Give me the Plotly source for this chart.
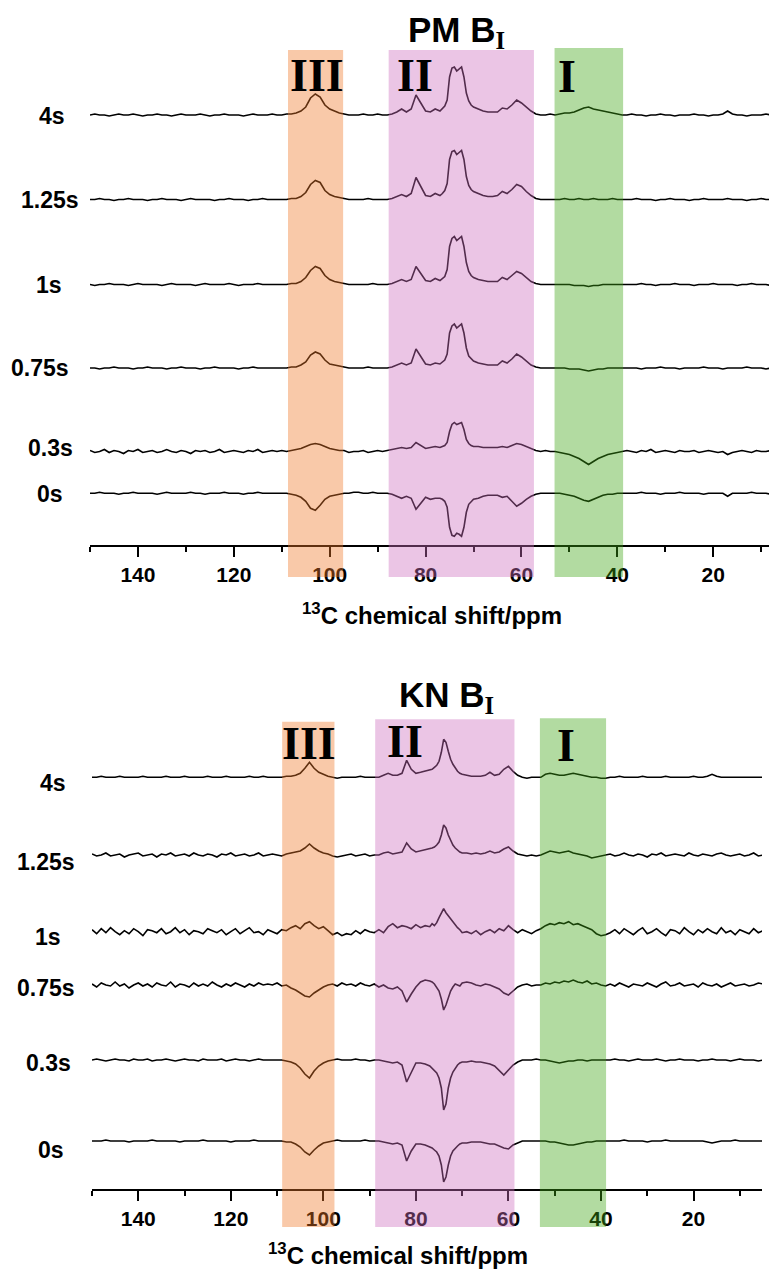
import plotly.graph_objects as go

# page is 777x1274; the HTML body keeps an 8 px margin, so the figure is drawn 8 px in
PAGE_W, PAGE_H = 777, 1274
OFF = 8
W, H = PAGE_W - OFF, PAGE_H - OFF

# ---------------- data ----------------
# chemical-shift sampling grid (ppm), descending; finer steps across the 77-70 ppm doublet
PPM = [float(v) for v in range(150, 77, -1)] + [77 - 0.5 * i for i in range(15)] + [float(v) for v in range(69, 4, -1)]

DELAYS = ["4s", "1.25s", "1s", "0.75s", "0.3s", "0s"]

# PM B_I spectra (intensity, arbitrary units)
PM_4s = ([0,1,0,0,-1,0,1,0,0,1, 0,-1,0,0,1,0,0,-1,0,1, 0,0,0,1,0,-1,0,0,1,0, 0,0,-1,0,1,0,0,0,1]
         + [0,0,1,1,2,4,8,17,21,18,10,6,4,2,1,0,0]
         + [0,1,0,0,1,0]
         + [0,1,3,6,3,6,20,12,4,3,6]
         + [4,7,9,15,38,47,48,44,46,48,38,22,14,10,8]
         + [6,4,3,3,3,7,6,10,15,12,8,4,1]
         + [0,0,1]
         + [0,1,2,2,3,5,7,8,6,5,4,3,2,1,0]
         + [0,1,0,0,-1,0,0,1,0,0, -1,0,0,0,1,0,0,-1,0,0, 1,4,1,0,0,-1,0,0,0,1, 0,0,-1,0])
PM_125s = ([0,0,1,0,0,-1,0,0,1,0, 0,0,-1,0,0,1,0,0,0,-1, 0,1,0,0,0,0,-1,0,0,1, 0,0,0,-1,0,0,1,0,0]
           + [0,0,0,1,1,3,7,15,19,17,9,5,3,2,1,0,0]
           + [0,0,1,0,0,0]
           + [0,1,3,5,3,6,22,13,4,3,6]
           + [4,6,9,16,40,48,49,45,47,49,40,23,14,10,8]
           + [6,4,3,3,4,8,6,10,15,13,8,4,1]
           + [0,0,0]
           + [0,0,1,0,0,1,0,0,1,0,0,0,1,0,0]
           + [0,0,1,0,0,0,-1,0,0,1, 0,0,0,-1,0,0,1,0,0,0, 0,1,0,0,0,-1,0,0,1,0, 0,0,0,1])
PM_1s = ([0,-1,0,0,1,0,0,0,-1,0, 1,0,0,0,0,-1,0,1,0,0, 0,0,-1,0,1,0,0,0,0,1, 0,-1,0,0,0,1,0,0,0]
         + [0,0,0,1,1,3,7,14,18,16,9,5,3,2,1,0,0]
         + [0,0,0,1,0,0]
         + [0,1,3,5,3,5,18,11,4,3,6]
         + [4,6,8,15,38,46,48,44,46,48,38,22,13,9,7]
         + [5,4,3,3,3,7,5,9,13,11,7,3,1]
         + [0,0,0]
         + [0,0,0,0,-1,-1,-1,-2,-1,-1,0,0,0,0,0]
         + [0,0,0,1,0,0,-1,0,0,0, 1,0,0,0,-1,0,0,0,1,0, 0,0,0,-1,0,0,1,0,0,0, -1,0,0,0])
PM_075s = ([0,0,-1,0,0,1,0,0,0,-1, 0,0,1,0,0,0,-1,0,0,1, 0,0,0,-1,0,0,1,0,0,0, 0,-1,0,0,1,0,0,0,0]
           + [0,0,0,1,1,3,6,13,16,14,8,4,3,2,1,0,0]
           + [0,0,1,0,0,0]
           + [0,1,3,5,3,5,19,11,4,3,5]
           + [4,6,8,14,35,42,44,40,42,44,35,20,12,9,7]
           + [5,4,3,3,3,7,5,9,14,11,7,3,1]
           + [0,0,0]
           + [0,0,0,-1,-1,-1,-2,-3,-2,-1,-1,0,0,0,0]
           + [0,0,0,-1,0,0,0,1,0,0, 0,-1,0,0,0,0,1,0,0,0, -1,0,0,0,0,1,0,0,0,-1, 0,0,0,0])
PM_03s = ([1,-1,0,2,-1,1,0,-2,1,0, 2,-1,0,1,-1,0,2,0,-1,1, 0,-2,1,0,1,-1,0,2,-1,0, 1,0,-1,1,0,2,-1,0,1]
          + [0,1,0,1,2,3,5,7,8,7,5,3,2,1,1,-1,0]
          + [0,1,-1,0,1,0]
          + [1,2,3,4,3,4,9,6,3,4,5]
          + [4,5,6,9,20,27,29,27,28,29,22,12,8,6,5]
          + [5,4,4,4,4,5,4,6,8,7,5,3,1]
          + [0,1,0]
          + [0,-1,-2,-3,-5,-7,-10,-13,-10,-7,-5,-3,-2,-1,0]
          + [1,0,-1,1,0,2,-1,0,1,0, -1,1,0,0,1,-1,0,1,0,-1, 0,-3,-1,0,1,0,-1,1,0,0, 1,-1,0,1])
PM_0s = ([0,0,1,0,0,0,-1,0,0,1, 0,0,0,0,-1,0,1,0,0,0, 0,1,0,0,-1,0,0,0,1,0, 0,0,-1,0,0,1,0,0,0]
         + [0,0,0,-1,-2,-4,-8,-15,-17,-12,-6,-3,-2,-1,0,0,1]
         + [1,0,0,1,0,0]
         + [0,-1,-3,-5,-3,-5,-16,-10,-4,-6,-5]
         + [-5,-6,-8,-14,-34,-42,-43,-40,-41,-43,-34,-19,-11,-8,-6]
         + [-5,-3,-2,-2,-2,-4,-3,-8,-13,-10,-6,-3,-1]
         + [0,0,0]
         + [0,0,-1,-2,-3,-5,-7,-8,-6,-4,-2,-1,-1,0,0]
         + [0,0,0,1,0,0,0,-1,0,0, 0,1,0,0,0,0,-1,0,0,0, 0,-3,0,0,0,0,1,0,0,0, -1,0,0,0])

# KN B_I spectra
KN_4s = ([0,0,1,0,0,0,1,0,0,0, 0,1,0,0,0,0,1,0,0,0, 1,0,0,0,0,1,0,0,0,1, 0,0,0,0,1,0,0,1,0]
         + [0,0,0,1,1,2,4,9,15,9,5,3,1,0,-1,0,0]
         + [0,0,1,0,0,0]
         + [0,2,4,2,2,4,17,8,4,5,6]
         + [7,8,10,12,16,25,38,35,26,18,13,9,6,4,3]
         + [2,1,1,1,2,5,2,3,8,11,6,2,0]
         + [-1,0,0]
         + [0,3,4,3,2,2,3,4,3,2,1,0,0,-1,-1]
         + [0,0,1,0,0,0,0,1,0,0, 0,0,1,0,0,0,0,0,1,0, 0,1,3,1,0,0,0,0,0,0, 0,0,0,0])
KN_125s = ([1,-1,0,2,-1,0,1,-2,0,1, 2,-1,0,1,-2,1,0,2,-1,0, 1,-1,2,0,-1,1,0,-2,1,0, 2,-1,0,1,-1,0,2,-1,0]
           + [1,0,-1,1,2,3,4,7,11,7,4,2,1,-1,-2,-1,0]
           + [1,-1,0,1,-1,0]
           + [0,2,3,1,2,3,12,6,3,4,5]
           + [6,7,8,10,13,20,30,27,20,14,10,7,5,3,2]
           + [2,1,2,1,2,4,2,3,6,8,4,1,0]
           + [-1,0,-1]
           + [0,2,4,3,2,3,4,2,1,0,-1,-3,-2,-1,0]
           + [1,-1,0,2,0,-1,1,0,-2,1, 0,2,-1,0,1,0,-1,2,0,-1, 1,0,-1,1,2,0,-1,0,1,-1, 0,2,-1,0])
KN_1s = ([2,-2,3,-1,4,0,-3,1,-2,3, 0,-4,2,1,-1,3,-2,0,4,-1, 2,-3,1,0,-2,3,1,-1,2,-3, 0,3,-2,1,4,-1,0,-3,2]
         + [0,-2,2,1,4,6,3,8,10,6,3,5,1,-3,-1,-4,-2]
         + [-3,1,-2,2,0,-1]
         + [2,-1,5,8,4,6,5,3,7,4,6]
         + [5,8,6,9,14,18,23,19,16,12,9,6,4,2,-1]
         + [0,-2,1,-3,0,2,-1,3,1,6,2,-1,2]
         + [0,-2,1]
         + [3,6,8,7,9,8,10,7,8,6,4,2,-2,-4,-3]
         + [-1,2,-2,3,0,-3,1,4,-2,0, 3,-1,-4,2,1,-2,4,0,-3,2, -1,3,0,-2,4,-1,1,-3,2,0, -2,3,-1,1])
KN_075s = ([1,-2,2,0,-1,3,-1,1,-3,0, 2,-1,1,-2,2,0,-1,3,-2,1, 0,-2,2,-1,1,-1,3,0,-2,1, -1,2,0,-2,1,-1,2,0,1]
           + [0,2,-1,0,-3,-5,-8,-11,-12,-8,-5,-2,0,1,-1,2,0]
           + [1,-1,2,0,-1,1]
           + [-2,0,-3,-4,-2,-6,-17,-9,-2,3,5]
           + [4,3,1,-2,-6,-14,-25,-20,-12,-6,-2,1,0,-1,2]
           + [3,2,0,-1,1,0,-2,-4,-8,-10,-6,-2,0]
           + [1,-1,0]
           + [0,2,1,3,2,4,3,5,3,2,4,1,2,0,-1]
           + [1,-1,2,0,-2,1,0,-1,2,0, -2,1,3,-1,0,2,-1,0,1,-2, 2,0,-1,1,-2,0,2,-1,0,1, -1,0,2,1])
KN_03s = ([0,1,0,-1,0,1,0,0,-1,1, 0,0,1,-1,0,0,1,0,-1,0, 1,0,0,-1,1,0,0,0,1,-1, 0,1,0,0,-1,0,1,0,0]
          + [0,0,0,-1,-2,-4,-8,-14,-18,-11,-6,-3,-1,0,1,0,0]
          + [0,1,0,0,-1,0]
          + [0,-1,-2,-3,-2,-5,-22,-12,-3,-3,-4]
          + [-6,-8,-10,-13,-18,-28,-50,-44,-28,-18,-12,-8,-5,-3,-2]
          + [-2,-1,-2,-2,-3,-4,-6,-10,-15,-10,-5,-2,0]
          + [0,0,1]
          + [0,0,-1,-2,-3,-2,-1,-1,0,0,-1,0,0,0,0]
          + [0,1,0,0,-1,0,1,0,0,0, 1,0,-1,0,0,1,0,0,0,-1, 0,0,1,0,0,0,-1,0,1,0, 0,0,-1,0])
KN_0s = ([0,0,0,1,0,0,0,0,-1,0, 0,0,0,1,0,0,0,0,0,-1, 0,0,0,0,1,0,0,0,0,0, -1,0,0,0,0,1,0,0,0]
         + [0,0,0,-1,-1,-3,-6,-11,-14,-9,-5,-2,-1,0,1,0,0]
         + [0,0,0,1,0,0]
         + [0,-1,-2,-3,-2,-4,-20,-10,-3,-3,-4]
         + [-6,-7,-9,-11,-15,-24,-41,-36,-24,-15,-10,-7,-5,-3,-2]
         + [-2,-1,-1,-1,-2,-3,-3,-5,-7,-8,-4,-2,0]
         + [0,0,0]
         + [0,0,-1,-1,-2,-3,-4,-4,-3,-2,-1,-1,0,0,0]
         + [0,0,0,1,0,0,0,0,-1,0, 0,0,1,0,0,0,0,0,0,0, 0,-1,-2,-1,0,0,0,1,0,0, 0,0,0,0])

PM_SPECTRA = [PM_4s, PM_125s, PM_1s, PM_075s, PM_03s, PM_0s]
KN_SPECTRA = [KN_4s, KN_125s, KN_1s, KN_075s, KN_03s, KN_0s]

REGIONS = ["III", "II", "I"]
PM_BANDS = [(108.7, 97.2), (87.7, 57.4), (53.1, 38.8)]
KN_BANDS = [(108.9, 97.6), (88.8, 58.7), (53.2, 38.9)]

for name, s in zip(DELAYS * 2, PM_SPECTRA + KN_SPECTRA):
    if len(s) != len(PPM):
        raise ValueError(f"{name}: {len(s)} != {len(PPM)}")

# ---------------- layout helpers (page pixel -> paper fraction) ----------------
def py(px):
    return 1 - (px - OFF) / H

def pxx(px):
    return (px - OFF) / W

FONT = "Liberation Sans, Arial, sans-serif"
SERIF = "Liberation Serif, Times New Roman, serif"

PM_AXIS_Y, PM_TOP_Y = 545, 40
KN_AXIS_Y, KN_TOP_Y = 1188.7, 715
PM_BASE_Y = [115, 199.5, 284.5, 368, 451.5, 493.3]
KN_BASE_Y = [777.3, 855, 931.7, 985, 1060, 1141]
PM_LABEL_Y = [116, 200, 285, 368, 448, 494]
KN_LABEL_Y = [783, 862, 937, 988, 1063, 1150]
PM_LABEL_X = [52, 50, 49, 40, 50, 50]
KN_LABEL_X = [53, 46, 48, 46, 48, 51]

BAND_COLORS = ["rgb(240,120,40)", "rgb(205,110,190)", "rgb(62,165,20)"]

fig = go.Figure()

for vals, base in zip(PM_SPECTRA, PM_BASE_Y):
    off = PM_AXIS_Y - base
    fig.add_trace(go.Scatter(x=PPM, y=[off + v for v in vals], mode="lines",
                             line=dict(color="black", width=1.6), xaxis="x", yaxis="y",
                             hoverinfo="skip"))
for vals, base in zip(KN_SPECTRA, KN_BASE_Y):
    off = KN_AXIS_Y - base
    fig.add_trace(go.Scatter(x=PPM, y=[off + v for v in vals], mode="lines",
                             line=dict(color="black", width=1.6), xaxis="x2", yaxis="y2",
                             hoverinfo="skip"))

axis_common = dict(
    showline=True, linecolor="black", linewidth=2, mirror=False,
    ticks="outside", ticklen=10, tickwidth=2, tickcolor="black",
    tickmode="linear", tick0=0, dtick=20,
    minor=dict(ticks="outside", ticklen=5, tickwidth=2, tickcolor="black", dtick=10, tick0=0),
    showgrid=False, zeroline=False,
    tickfont=dict(family=FONT, size=21, color="black", weight="bold"),
)

fig.update_layout(
    width=W, height=H,
    margin=dict(l=0, r=0, t=0, b=0),
    paper_bgcolor="white", plot_bgcolor="white",
    showlegend=False,
    xaxis=dict(domain=[pxx(90), 1.0], range=[150, 6.7], anchor="y", **axis_common),
    yaxis=dict(domain=[py(PM_AXIS_Y), py(PM_TOP_Y)], range=[0, PM_AXIS_Y - PM_TOP_Y], visible=False),
    xaxis2=dict(domain=[pxx(92), pxx(762)], range=[150, 5.2], anchor="y2", **axis_common),
    yaxis2=dict(domain=[py(KN_AXIS_Y), py(KN_TOP_Y)], range=[0, KN_AXIS_Y - KN_TOP_Y], visible=False),
)

# shaded regions (overlay, tinting the traces and tick labels beneath)
band_tops_pm = [50, 50, 48]
band_tops_kn = [721.7, 719.3, 718.3]
for (x0, x1), c, t in zip(PM_BANDS, BAND_COLORS, band_tops_pm):
    fig.add_shape(type="rect", xref="x", yref="paper", x0=x0, x1=x1, y0=py(577), y1=py(t),
                  fillcolor=c, opacity=0.4, line=dict(width=0), layer="above")
for (x0, x1), c, t in zip(KN_BANDS, BAND_COLORS, band_tops_kn):
    fig.add_shape(type="rect", xref="x2", yref="paper", x0=x0, x1=x1, y0=py(1227), y1=py(t),
                  fillcolor=c, opacity=0.4, line=dict(width=0), layer="above")

# region numerals
PM_NUM_POS = [(102.7, 75), (82.2, 75), (50.6, 76)]
KN_NUM_POS = [(103.1, 743), (82.4, 741), (47.6, 745)]
for lab, (xp, ypx) in zip(REGIONS, PM_NUM_POS):
    fig.add_annotation(text=lab, x=xp, xref="x", y=py(ypx), yref="paper", showarrow=False,
                       xanchor="center", yanchor="middle",
                       font=dict(family=SERIF, size=46, color="black", weight="bold"))
for lab, (xp, ypx) in zip(REGIONS, KN_NUM_POS):
    fig.add_annotation(text=lab, x=xp, xref="x2", y=py(ypx), yref="paper", showarrow=False,
                       xanchor="center", yanchor="middle",
                       font=dict(family=SERIF, size=46, color="black", weight="bold"))

# delay labels
for lab, xl, yl in zip(DELAYS, PM_LABEL_X, PM_LABEL_Y):
    fig.add_annotation(text=lab, x=pxx(xl), xref="paper", y=py(yl), yref="paper", showarrow=False,
                       xanchor="center", yanchor="middle",
                       font=dict(family=FONT, size=23, color="black", weight="bold"))
for lab, xl, yl in zip(DELAYS, KN_LABEL_X, KN_LABEL_Y):
    fig.add_annotation(text=lab, x=pxx(xl), xref="paper", y=py(yl), yref="paper", showarrow=False,
                       xanchor="center", yanchor="middle",
                       font=dict(family=FONT, size=23, color="black", weight="bold"))

# panel titles
SUB_I = "<sub><span style='font-family:Liberation Serif'>I</span></sub>"
for txt, xc, yc in [("PM B" + SUB_I, 456, 32), ("KN B" + SUB_I, 447, 697)]:
    fig.add_annotation(text=txt, x=pxx(xc), xref="paper", y=py(yc), yref="paper", showarrow=False,
                       xanchor="center", yanchor="middle",
                       font=dict(family=FONT, size=35, color="black", weight="bold"))

# x-axis titles
for xc, yc in [(432, 614), (398, 1254)]:
    fig.add_annotation(text="<sup>13</sup>C chemical shift/ppm", x=pxx(xc), xref="paper",
                       y=py(yc), yref="paper", showarrow=False, xanchor="center", yanchor="middle",
                       font=dict(family=FONT, size=24, color="black", weight="bold"))

fig.write_html("out.html")
